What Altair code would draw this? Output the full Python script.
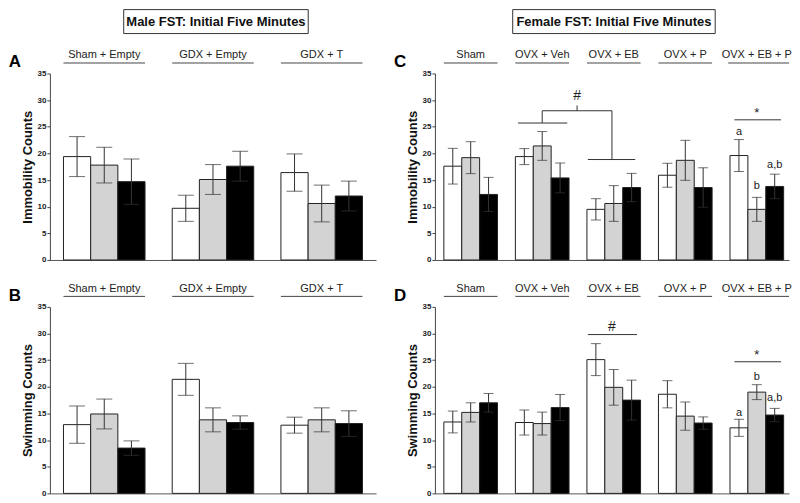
import altair as alt
import pandas as pd

conditions = ["Cond 1", "Cond 2", "Cond 3"]
bar_colors = ["#ffffff", "#d3d3d3", "#000000"]

male_groups = ["Sham + Empty", "GDX + Empty", "GDX + T"]
female_groups = ["Sham", "OVX + Veh", "OVX + EB", "OVX + P", "OVX + EB + P"]

# Panel A: male immobility counts (mean, SEM), 3 bars per group
a_mean = [19.4, 17.8, 14.7, 9.7, 15.1, 17.6, 16.4, 10.6, 12.0]
a_err = [3.75, 3.35, 4.25, 2.45, 2.8, 2.8, 3.5, 3.45, 2.8]
# Panel B: male swimming counts
b_mean = [12.9, 14.9, 8.5, 21.4, 13.8, 13.3, 12.8, 13.8, 13.1]
b_err = [3.5, 2.8, 1.35, 3.0, 2.25, 1.25, 1.5, 2.25, 2.4]
# Panel C: female immobility counts
c_mean = [17.6, 19.2, 12.3, 19.4, 21.4, 15.4, 9.5, 10.6, 13.6, 15.9, 18.7, 13.6, 19.6, 9.5, 13.8]
c_err = [3.35, 3.0, 3.2, 1.5, 2.7, 2.8, 2.0, 3.35, 2.65, 2.25, 3.75, 3.7, 3.0, 2.25, 2.3]
# Panel D: female swimming counts
d_mean = [13.4, 15.2, 17.0, 13.3, 13.1, 16.1, 25.1, 19.9, 17.5, 18.6, 14.5, 13.2, 12.3, 19.0, 14.7]
d_err = [2.05, 1.8, 1.75, 2.35, 2.15, 2.45, 3.0, 3.35, 3.75, 2.55, 2.65, 1.15, 1.6, 1.4, 1.25]

y_ticks = [0, 5, 10, 15, 20, 25, 30, 35]

# Significance annotation levels (y values)
c_hash_levels = [25.7, 18.85, 28.0, 29.0, 30.7]   # left line, right line, bracket top, tick top, label
c_star_levels = [26.3, 27.6]                        # line, label
c_letters = ["a", "b", "a,b"]
c_letter_y = [24.0, 13.8, 17.8]
d_hash_levels = [29.8, 31.2]
d_star_levels = [24.7, 25.9]
d_letters = ["a", "b", "a,b"]
d_letter_y = [15.1, 21.9, 17.9]

FONT = "Liberation Sans"


def gstart(g):
    return 0.5 + 4 * g


def panel(groups, means, errs, ytitle, letter, xmax, width, cap,
          title=None, box=None, segs=None, texts=None):
    rows = []
    for g, grp in enumerate(groups):
        for b, cond in enumerate(conditions):
            i = g * 3 + b
            x0 = gstart(g) + b
            rows.append(dict(group=grp, cond=cond, x0=x0, x1=x0 + 1, xc=x0 + 0.5, zero=0,
                             mean=means[i], lo=means[i] - errs[i], hi=means[i] + errs[i]))
    df = pd.DataFrame(rows)
    n = len(groups)
    gdf = pd.DataFrame(dict(group=groups,
                            gx0=[gstart(g) - (0.1 if g == n - 1 and n > 3 else 0) for g in range(n)],
                            gx1=[gstart(g) + 3 + (0.3 if g == n - 1 and n > 3 else 0) for g in range(n)],
                            gc=[gstart(g) + 1.5 for g in range(n)]))
    xs = alt.Scale(domain=[0, xmax], nice=False, zero=False)
    ys = alt.Scale(domain=[0, 35], nice=False)
    xaxis = alt.Axis(labels=False, ticks=False, title=None, grid=False,
                     domainColor="#555", domainWidth=1)
    yaxis = alt.Axis(values=y_ticks, grid=False, title=ytitle,
                     titleFontSize=13, titleFontWeight="bold", titleColor="#111",
                     titlePadding=3, labelFontSize=8, labelFontWeight="bold",
                     labelColor="#222", labelPadding=1, tickSize=3,
                     labelOverlap=False, labelFlush=False, format="d",
                     tickColor="#444", domainColor="#444")

    def X(f):
        return alt.X(f, scale=xs, axis=xaxis)

    def Y(f):
        return alt.Y(f, scale=ys, axis=yaxis)

    bars = alt.Chart(df).mark_bar(stroke="#222", strokeWidth=1).encode(
        x=X("x0:Q"), x2="x1:Q", y=Y("mean:Q"), y2="zero:Q",
        color=alt.Color("cond:N", scale=alt.Scale(domain=conditions, range=bar_colors),
                        legend=None),
    )
    err = alt.Chart(df).mark_rule(color="#333", strokeWidth=1).encode(
        x=X("xc:Q"), y=Y("lo:Q"), y2="hi:Q")
    cap_lo = alt.Chart(df).mark_tick(orient="horizontal", size=cap, thickness=1,
                                     color="#333").encode(x=X("xc:Q"), y=Y("lo:Q"))
    cap_hi = alt.Chart(df).mark_tick(orient="horizontal", size=cap, thickness=1,
                                     color="#333").encode(x=X("xc:Q"), y=Y("hi:Q"))
    glabel = alt.Chart(gdf).mark_text(fontSize=11, color="#222", baseline="middle").encode(
        x=X("gc:Q"), y=alt.value(-18), text="group:N")
    gline = alt.Chart(gdf).mark_rule(color="#444", strokeWidth=1).encode(
        x=X("gx0:Q"), x2="gx1:Q", y=alt.value(-10.5))
    let = alt.Chart(pd.DataFrame({"t": [letter]})).mark_text(
        fontSize=17, fontWeight="bold", color="#000", baseline="middle").encode(
        x=alt.value(-35), y=alt.value(-11), text="t:N")
    layers = [bars, err, cap_lo, cap_hi, glabel, gline, let]
    if title is not None:
        bdf = pd.DataFrame({"t": [title]})
        rect = alt.Chart(bdf).mark_rect(fill="white", stroke="#333", strokeWidth=1).encode(
            x=alt.value(box[0]), x2=alt.value(box[1]), y=alt.value(-64), y2=alt.value(-40))
        ttxt = alt.Chart(bdf).mark_text(fontSize=13, fontWeight="bold", color="#111",
                                        baseline="middle").encode(
            x=alt.value((box[0] + box[1]) / 2), y=alt.value(-52), text="t:N")
        layers += [rect, ttxt]
    if segs:
        sdf = pd.DataFrame(segs, columns=["sx", "sx2", "sy", "sy2"])
        layers.append(alt.Chart(sdf).mark_rule(color="#333", strokeWidth=1).encode(
            x=X("sx:Q"), x2="sx2:Q", y=Y("sy:Q"), y2="sy2:Q"))
    if texts:
        tdf = pd.DataFrame(texts, columns=["tx", "ty", "txt", "fs"])
        layers.append(alt.Chart(tdf).mark_text(color="#222", baseline="middle").encode(
            x=X("tx:Q"), y=Y("ty:Q"), text="txt:N",
            size=alt.Size("fs:Q", scale=None)))
    return alt.layer(*layers).properties(width=width, height=187)


# Female annotation geometry derived from group indices
veh, eb, ebp = 1, 2, 4
vc, ec = gstart(veh) + 1.5, gstart(eb) + 1.4
mid = (vc + ec) / 2
c_segs = [
    (gstart(veh) + 0.15, gstart(veh) + 2.9, c_hash_levels[0], c_hash_levels[0]),
    (vc, vc, c_hash_levels[0], c_hash_levels[2]),
    (vc, ec, c_hash_levels[2], c_hash_levels[2]),
    (ec, ec, c_hash_levels[2], c_hash_levels[1]),
    (gstart(eb) + 0.05, gstart(eb) + 2.7, c_hash_levels[1], c_hash_levels[1]),
    (mid, mid, c_hash_levels[2], c_hash_levels[3]),
    (gstart(ebp) + 0.25, gstart(ebp) + 2.85, c_star_levels[0], c_star_levels[0]),
]
c_texts = [(mid, c_hash_levels[4], "#", 14), (gstart(ebp) + 1.5, c_star_levels[1], "*", 13)]
c_texts += [(gstart(ebp) + k + 0.5, c_letter_y[k], c_letters[k], 11) for k in range(3)]

d_segs = [
    (gstart(eb) + 0.05, gstart(eb) + 2.8, d_hash_levels[0], d_hash_levels[0]),
    (gstart(ebp) + 0.25, gstart(ebp) + 2.85, d_star_levels[0], d_star_levels[0]),
]
d_texts = [(gstart(eb) + 1.4, d_hash_levels[1], "#", 14), (gstart(ebp) + 1.5, d_star_levels[1], "*", 13)]
d_texts += [(gstart(ebp) + k + 0.5, d_letter_y[k], d_letters[k], 11) for k in range(3)]

pa = panel(male_groups, a_mean, a_err, "Immobility Counts", "A", 12, 327, 16,
           title="Male FST: Initial Five Minutes", box=(74, 259))
pb = panel(male_groups, b_mean, b_err, "Swimming Counts", "B", 12, 327, 16)
pc = panel(female_groups, c_mean, c_err, "Immobility Counts", "C", 19.8, 355, 10,
           title="Female FST: Initial Five Minutes", box=(78, 281), segs=c_segs, texts=c_texts)
pd_ = panel(female_groups, d_mean, d_err, "Swimming Counts", "D", 19.8, 355, 10,
            segs=d_segs, texts=d_texts)

chart = alt.vconcat(
    alt.hconcat(pa, pc, spacing=17),
    alt.hconcat(pb, pd_, spacing=17),
    spacing=19,
).properties(padding=0).configure(font=FONT).configure_view(stroke=None)

chart.save("out.html", embed_options={"renderer": "svg", "actions": False})
